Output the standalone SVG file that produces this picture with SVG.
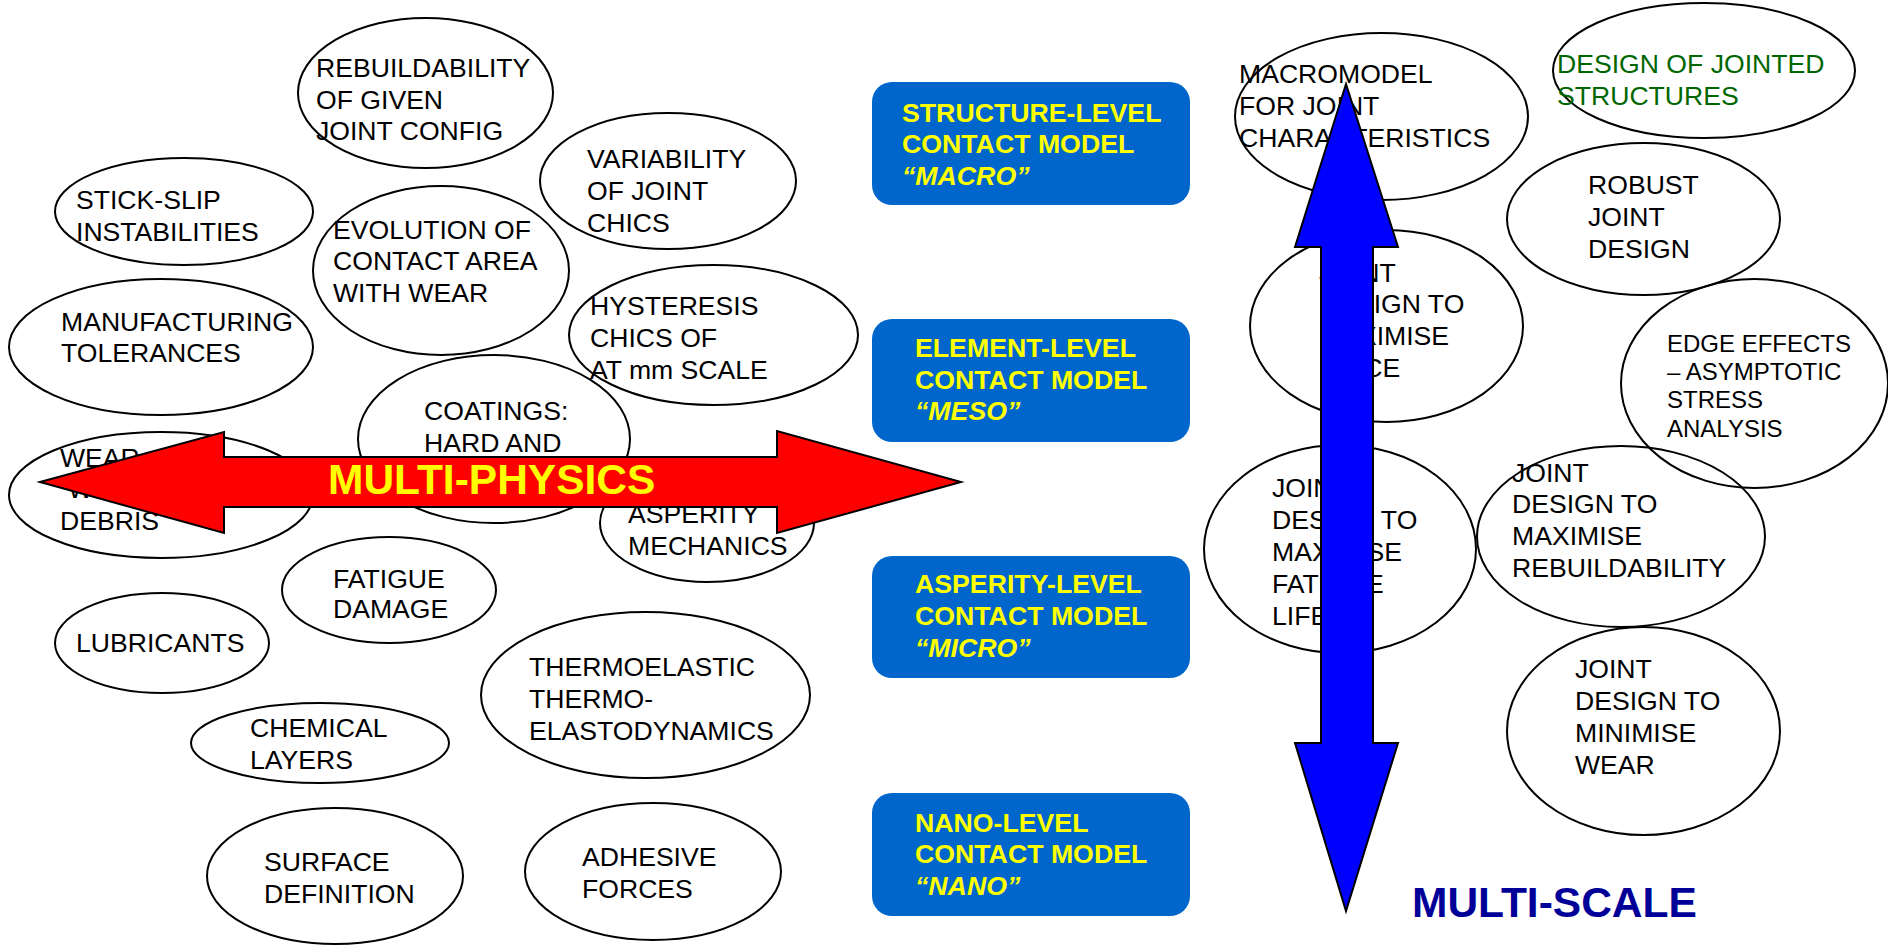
<svg xmlns="http://www.w3.org/2000/svg" width="1888" height="945" viewBox="0 0 1888 945">
  <style>
    .bub { fill: none; stroke: #000; stroke-width: 2; }
    .t { font-family: "Liberation Sans", Arial, sans-serif; font-size: 26.6px; fill: #000; }
    .ts { font-family: "Liberation Sans", Arial, sans-serif; font-size: 24px; fill: #000; }
    .green { fill: #006600; }
    .box { fill: #0066CC; }
    .bt { font-family: "Liberation Sans", Arial, sans-serif; font-size: 26.7px; font-weight: bold; fill: #FFFF00; }
    .it { font-style: italic; }
    .arrow { stroke: #000; stroke-width: 2; stroke-linejoin: miter; }
    .big { font-family: "Liberation Sans", Arial, sans-serif; font-size: 42.5px; font-weight: bold; }
  </style>
  <rect width="1888" height="945" fill="#fff"/>

  <!-- physics topics (left) -->
  <g id="rebuildability-config">
    <ellipse class="bub" cx="425.5" cy="93" rx="127.5" ry="75"/>
    <text class="t" x="316" y="77">REBUILDABILITY</text>
    <text class="t" x="316" y="108.5">OF GIVEN</text>
    <text class="t" x="316" y="140">JOINT CONFIG</text>
  </g>
  <g id="variability">
    <ellipse class="bub" cx="668" cy="181" rx="128" ry="68"/>
    <text class="t" x="587" y="168">VARIABILITY</text>
    <text class="t" x="587" y="200">OF JOINT</text>
    <text class="t" x="587" y="232">CHICS</text>
  </g>
  <g id="stick-slip">
    <ellipse class="bub" cx="184" cy="211.5" rx="129" ry="53.5"/>
    <text class="t" x="76" y="209">STICK-SLIP</text>
    <text class="t" x="76" y="241">INSTABILITIES</text>
  </g>
  <g id="evolution">
    <ellipse class="bub" cx="441" cy="270.5" rx="128" ry="84.5"/>
    <text class="t" x="333" y="239">EVOLUTION OF</text>
    <text class="t" x="333" y="270">CONTACT AREA</text>
    <text class="t" x="333" y="302">WITH WEAR</text>
  </g>
  <g id="hysteresis">
    <ellipse class="bub" cx="713.5" cy="335" rx="144.5" ry="70"/>
    <text class="t" x="590" y="315">HYSTERESIS</text>
    <text class="t" x="590" y="347">CHICS OF</text>
    <text class="t" x="590" y="379">AT mm SCALE</text>
  </g>
  <g id="manufacturing">
    <ellipse class="bub" cx="161" cy="347" rx="152" ry="68"/>
    <text class="t" x="61" y="331">MANUFACTURING</text>
    <text class="t" x="61" y="362">TOLERANCES</text>
  </g>
  <g id="coatings">
    <ellipse class="bub" cx="494" cy="439" rx="136" ry="84"/>
    <text class="t" x="424" y="420">COATINGS:</text>
    <text class="t" x="424" y="452">HARD AND</text>
  </g>
  <g id="wear-debris">
    <ellipse class="bub" cx="161" cy="495" rx="152" ry="63"/>
    <text class="t" x="60" y="467">WEAR</text>
    <text class="t" x="68" y="498">WEAR</text>
    <text class="t" x="60" y="530">DEBRIS</text>
  </g>
  <g id="asperity-mechanics">
    <ellipse class="bub" cx="707" cy="523" rx="107" ry="59"/>
    <text class="t" x="628" y="523">ASPERITY</text>
    <text class="t" x="628" y="555">MECHANICS</text>
  </g>
  <g id="fatigue-damage">
    <ellipse class="bub" cx="389" cy="590" rx="107" ry="53"/>
    <text class="t" x="333" y="588">FATIGUE</text>
    <text class="t" x="333" y="618">DAMAGE</text>
  </g>
  <g id="lubricants">
    <ellipse class="bub" cx="162" cy="643" rx="107" ry="50"/>
    <text class="t" x="76" y="652">LUBRICANTS</text>
  </g>
  <g id="thermoelastic">
    <ellipse class="bub" cx="645.5" cy="695" rx="164.5" ry="83"/>
    <text class="t" x="529" y="676">THERMOELASTIC</text>
    <text class="t" x="529" y="708">THERMO-</text>
    <text class="t" x="529" y="740">ELASTODYNAMICS</text>
  </g>
  <g id="chemical-layers">
    <ellipse class="bub" cx="320" cy="743" rx="129" ry="40"/>
    <text class="t" x="250" y="737">CHEMICAL</text>
    <text class="t" x="250" y="769">LAYERS</text>
  </g>
  <g id="surface-definition">
    <ellipse class="bub" cx="335" cy="876" rx="128" ry="68"/>
    <text class="t" x="264" y="871">SURFACE</text>
    <text class="t" x="264" y="903">DEFINITION</text>
  </g>
  <g id="adhesive-forces">
    <ellipse class="bub" cx="653" cy="871.5" rx="128" ry="68.5"/>
    <text class="t" x="582" y="866">ADHESIVE</text>
    <text class="t" x="582" y="898">FORCES</text>
  </g>

  <!-- design goals (right) -->
  <g id="macromodel">
    <ellipse class="bub" cx="1381.5" cy="116.5" rx="146.5" ry="83.5"/>
    <text class="t" x="1239" y="83">MACROMODEL</text>
    <text class="t" x="1239" y="115">FOR JOINT</text>
    <text class="t" x="1239" y="147">CHARACTERISTICS</text>
  </g>
  <g id="design-jointed">
    <ellipse class="bub" cx="1704" cy="70.5" rx="151" ry="67.5"/>
    <text class="t green" x="1557" y="73">DESIGN OF JOINTED</text>
    <text class="t green" x="1557" y="105">STRUCTURES</text>
  </g>
  <g id="robust-design">
    <ellipse class="bub" cx="1643.5" cy="219" rx="136.5" ry="76"/>
    <text class="t" x="1588" y="194">ROBUST</text>
    <text class="t" x="1588" y="226">JOINT</text>
    <text class="t" x="1588" y="258">DESIGN</text>
  </g>
  <g id="design-price">
    <ellipse class="bub" cx="1386.5" cy="326" rx="136.5" ry="96"/>
    <text class="t" x="1319" y="282">JOINT</text>
    <text class="t" x="1319" y="313">DESIGN TO</text>
    <text class="t" x="1319" y="345">MAXIMISE</text>
    <text class="t" x="1319" y="377">PRICE</text>
  </g>
  <g id="edge-effects">
    <ellipse class="bub" cx="1754.5" cy="383.5" rx="133.5" ry="104.5"/>
    <text class="ts" x="1667" y="352">EDGE EFFECTS</text>
    <text class="ts" x="1667" y="380">– ASYMPTOTIC</text>
    <text class="ts" x="1667" y="408">STRESS</text>
    <text class="ts" x="1667" y="437">ANALYSIS</text>
  </g>
  <g id="design-fatigue-life">
    <ellipse class="bub" cx="1340" cy="549" rx="136" ry="104"/>
    <text class="t" x="1272" y="497">JOINT</text>
    <text class="t" x="1272" y="529">DESIGN TO</text>
    <text class="t" x="1272" y="561">MAXIMISE</text>
    <text class="t" x="1272" y="593">FATIGUE</text>
    <text class="t" x="1272" y="625">LIFE</text>
  </g>
  <g id="design-rebuildability">
    <ellipse class="bub" cx="1621" cy="536.5" rx="144" ry="90.5"/>
    <text class="t" x="1512" y="482">JOINT</text>
    <text class="t" x="1512" y="513">DESIGN TO</text>
    <text class="t" x="1512" y="545">MAXIMISE</text>
    <text class="t" x="1512" y="577">REBUILDABILITY</text>
  </g>
  <g id="design-wear">
    <ellipse class="bub" cx="1643.5" cy="731" rx="136.5" ry="104"/>
    <text class="t" x="1575" y="678">JOINT</text>
    <text class="t" x="1575" y="710">DESIGN TO</text>
    <text class="t" x="1575" y="742">MINIMISE</text>
    <text class="t" x="1575" y="774">WEAR</text>
  </g>

  <!-- contact model levels -->
  <g id="level-macro">
    <rect class="box" x="872" y="82" width="318" height="123" rx="20"/>
    <text class="bt" x="902" y="122">STRUCTURE-LEVEL</text>
    <text class="bt" x="902" y="153">CONTACT MODEL</text>
    <text class="bt it" x="902" y="185">“MACRO”</text>
  </g>
  <g id="level-meso">
    <rect class="box" x="872" y="319" width="318" height="123" rx="20"/>
    <text class="bt" x="915" y="357">ELEMENT-LEVEL</text>
    <text class="bt" x="915" y="389">CONTACT MODEL</text>
    <text class="bt it" x="915" y="420">“MESO”</text>
  </g>
  <g id="level-micro">
    <rect class="box" x="872" y="556" width="318" height="122" rx="20"/>
    <text class="bt" x="915" y="593">ASPERITY-LEVEL</text>
    <text class="bt" x="915" y="625">CONTACT MODEL</text>
    <text class="bt it" x="915" y="657">“MICRO”</text>
  </g>
  <g id="level-nano">
    <rect class="box" x="872" y="793" width="318" height="123" rx="20"/>
    <text class="bt" x="915" y="832">NANO-LEVEL</text>
    <text class="bt" x="915" y="863">CONTACT MODEL</text>
    <text class="bt it" x="915" y="895">“NANO”</text>
  </g>

  <!-- double-headed arrows -->
  <g id="connectors">
    <polygon class="arrow" fill="#FF0000" points="40,482 224,432 224,457 777,457 777,431 961,482 777,533 777,507 224,507 224,533"/>
    <polygon class="arrow" fill="#0000FF" points="1346,84 1398,247 1373,247 1373,743 1398,743 1346,911 1295,743 1321,743 1321,247 1295,247"/>
  </g>
  <text class="big" x="328" y="494" fill="#FFFF00">MULTI-PHYSICS</text>
  <text class="big" x="1412" y="917" fill="#000099">MULTI-SCALE</text>
</svg>
